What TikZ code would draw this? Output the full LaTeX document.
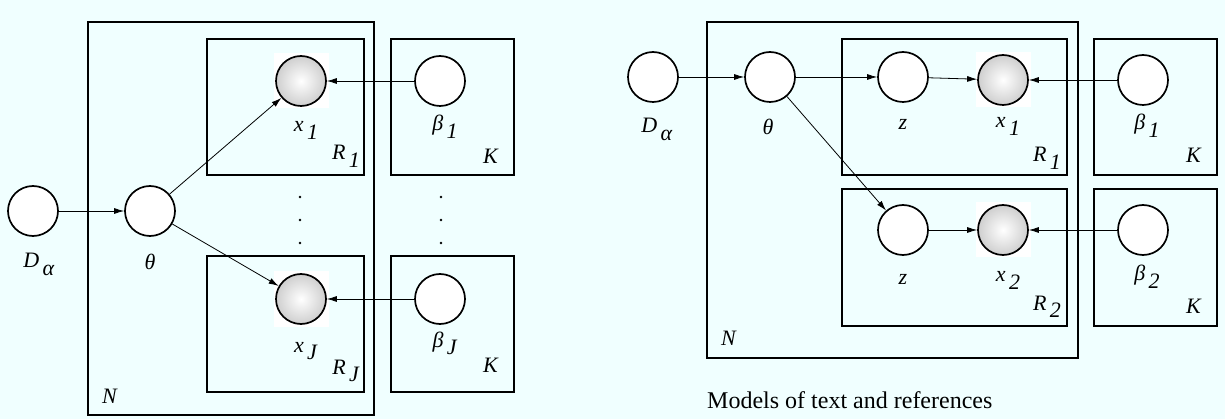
\documentclass[tikz,border=0pt]{standalone}
\usepackage{fontspec}
\setmainfont{Liberation Serif}
\usetikzlibrary{arrows.meta,backgrounds}

\definecolor{paper}{RGB}{240,255,255}
\pgfdeclareradialshading{orb}{\pgfpoint{0bp}{0bp}}{color(0bp)=(white); color(50bp)=(black!38)}
\newcommand{\lbl}[2]{\textit{#1}\hspace{0.15em}\raisebox{-0.33em}{\textit{#2}}}

\begin{document}
\begin{tikzpicture}[x=1pt,y=-1pt,
    var/.style={circle,draw,line width=1.7pt,fill=white,minimum size=50pt,inner sep=0pt},
    obs/.style={var,shading=orb},
    sqbg/.style={fill=white,minimum size=55pt,inner sep=0pt},
    plate/.style={draw,line width=1.7pt},
    edge/.style={-{Latex[length=10pt,width=6pt]},line width=0.8pt},
    lab/.style={anchor=base,inner sep=0pt,font=\fontsize{22}{26}\selectfont},
    caption/.style={anchor=base west,inner sep=0pt,font=\fontsize{24}{28}\selectfont}]

    \path[use as bounding box] (0,0) rectangle (1225,419);

    % left: many references
    \begin{scope}
        \draw[plate] (88,22) rectangle (374,415);
        \draw[plate] (207,39) rectangle (364,175);
        \draw[plate] (207,256) rectangle (364,392);
        \draw[plate] (391,39) rectangle (514,175);
        \draw[plate] (391,256) rectangle (514,392);

        \node[var] (Dl) at (33,211) {};
        \node[var] (thl) at (150,211) {};
        \node[obs] (x1l) at (301,81) {};
        \node[obs] (xJl) at (301,299) {};
        \node[var] (b1l) at (440,81) {};
        \node[var] (bJl) at (440,299) {};

        \draw[edge] (Dl) -- (thl);
        \draw[edge] (thl) -- (x1l);
        \draw[edge] (thl) -- (xJl);
        \draw[edge] (b1l) -- (x1l);
        \draw[edge] (bJl) -- (xJl);

        \foreach \y in {197,220,243}{
            \fill (300,\y) circle (1.4pt);
            \fill (441,\y) circle (1.4pt);
        }

        \node[lab] at (39,268) {\lbl{D}{α}};
        \node[lab] at (150,270) {\textit{θ}};
        \node[lab] at (306,132) {\lbl{x}{1}};
        \node[lab] at (346,160) {\lbl{R}{1}};
        \node[lab] at (306,352) {\lbl{x}{J}};
        \node[lab] at (346,374) {\lbl{R}{J}};
        \node[lab] at (445,131) {\lbl{β}{1}};
        \node[lab] at (491,164) {\textit{K}};
        \node[lab] at (445,347) {\lbl{β}{J}};
        \node[lab] at (491,372) {\textit{K}};
        \node[lab] at (110,403) {\textit{N}};
    \end{scope}

    % right: text and references
    \begin{scope}
        \draw[plate] (707,22) rectangle (1078,358);
        \draw[plate] (842,39) rectangle (1067,175);
        \draw[plate] (842,189) rectangle (1067,326);
        \draw[plate] (1094,39) rectangle (1217,175);
        \draw[plate] (1094,189) rectangle (1217,326);

        \node[var] (Dr) at (653,77) {};
        \node[var] (thr) at (770,77) {};
        \node[var] (z1) at (903,77) {};
        \node[obs] (x1r) at (1003,80) {};
        \node[var] (b1r) at (1143,80) {};
        \node[var] (z2) at (903,230) {};
        \node[obs] (x2r) at (1003,230) {};
        \node[var] (b2r) at (1143,230) {};

        \draw[edge] (Dr) -- (thr);
        \draw[edge] (thr) -- (z1);
        \draw[edge] (thr) -- (z2);
        \draw[edge] (z1) -- (x1r);
        \draw[edge] (z2) -- (x2r);
        \draw[edge] (b1r) -- (x1r);
        \draw[edge] (b2r) -- (x2r);

        \node[lab] at (657,133) {\lbl{D}{α}};
        \node[lab] at (768,135) {\textit{θ}};
        \node[lab] at (903,130) {\textit{z}};
        \node[lab] at (1008,128) {\lbl{x}{1}};
        \node[lab] at (1047,162) {\lbl{R}{1}};
        \node[lab] at (1147,130) {\lbl{β}{1}};
        \node[lab] at (1194,163) {\textit{K}};
        \node[lab] at (903,285) {\textit{z}};
        \node[lab] at (1008,282) {\lbl{x}{2}};
        \node[lab] at (1047,310) {\lbl{R}{2}};
        \node[lab] at (1147,281) {\lbl{β}{2}};
        \node[lab] at (1194,313) {\textit{K}};
        \node[lab] at (729,345) {\textit{N}};

        \node[caption] (cap) at (707,408) {Models of text and references};
    \end{scope}

    \begin{pgfonlayer}{background}
        \fill[paper] (0,0) rectangle (1225,419);
        \foreach \n in {x1l,xJl,x1r,x2r}{
            \node[sqbg] at (\n) {};
        }
    \end{pgfonlayer}
\end{tikzpicture}
\end{document}
